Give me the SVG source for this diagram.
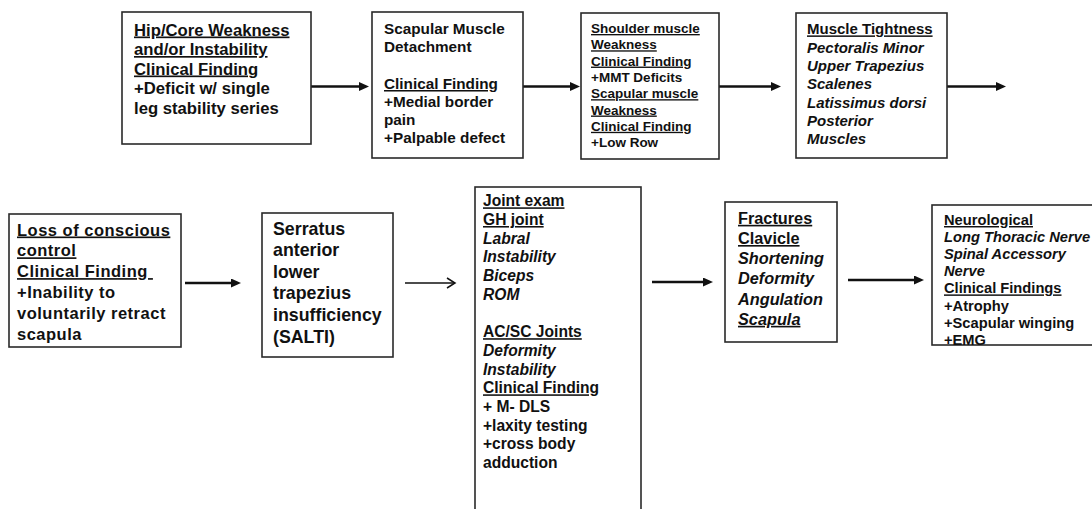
<svg xmlns="http://www.w3.org/2000/svg" width="1092" height="509" viewBox="0 0 1092 509">
<style>
  .box { fill: #ffffff; stroke: #2a2a2a; stroke-width: 1.6; }
  text { font-family: "Liberation Sans", Arial, sans-serif; font-weight: bold; fill: #111111; }
  .u { text-decoration: underline; }
  .i { font-style: italic; }
  .conn { stroke: #111111; stroke-width: 2.6; fill: none; }
  .thin { stroke: #111111; stroke-width: 1.5; fill: none; }
</style>
<defs>
  <marker id="ah" markerUnits="userSpaceOnUse" markerWidth="12" markerHeight="10" refX="2" refY="4.5" orient="auto">
    <path d="M0,0 L10,4.5 L0,9 Z" fill="#111111"/>
  </marker>
  <marker id="ahOpen" markerUnits="userSpaceOnUse" markerWidth="12" markerHeight="14" refX="9" refY="6" orient="auto">
    <path d="M1,1 L9,6 L1,11" fill="none" stroke="#111111" stroke-width="1.5"/>
  </marker>
  <clipPath id="clip9"><rect x="932" y="205" width="160" height="140"/></clipPath>
</defs>
<rect width="1092" height="509" fill="#ffffff"/>

<g id="connectors">
  <line class="conn" x1="311" y1="86.5" x2="361" y2="86.5" marker-end="url(#ah)"/>
  <line class="conn" x1="523" y1="86.5" x2="572" y2="86.5" marker-end="url(#ah)"/>
  <line class="conn" x1="719" y1="86.5" x2="773" y2="86.5" marker-end="url(#ah)"/>
  <line class="conn" x1="947" y1="86.5" x2="998" y2="86.5" marker-end="url(#ah)"/>
  <line class="conn" x1="185" y1="283" x2="233" y2="283" marker-end="url(#ah)"/>
  <line class="thin" x1="405" y1="283" x2="455" y2="283" marker-end="url(#ahOpen)"/>
  <line class="conn" x1="652" y1="282" x2="705" y2="282" marker-end="url(#ah)"/>
  <line class="conn" x1="848" y1="280" x2="916" y2="280" marker-end="url(#ah)"/>
</g>

<g id="node-hip-core">
  <rect class="box" x="122" y="12" width="189" height="132"/>
  <text font-size="16.7">
    <tspan class="u" x="134" y="35.5">Hip/Core Weakness</tspan>
    <tspan class="u" x="134" y="55">and/or Instability</tspan>
    <tspan class="u" x="134" y="74.5">Clinical Finding</tspan>
    <tspan x="134" y="94">+Deficit w/ single</tspan>
    <tspan x="134" y="113.5">leg stability series</tspan>
  </text>
</g>

<g id="node-scapular-detachment">
  <rect class="box" x="372" y="12" width="151" height="146"/>
  <text font-size="15.3">
    <tspan x="384" y="33.8">Scapular Muscle</tspan>
    <tspan x="384" y="52">Detachment</tspan>
    <tspan class="u" x="384" y="89">Clinical Finding</tspan>
    <tspan x="384" y="107">+Medial border</tspan>
    <tspan x="384" y="125">pain</tspan>
    <tspan x="384" y="143.3">+Palpable defect</tspan>
  </text>
</g>

<g id="node-muscle-weakness">
  <rect class="box" x="581" y="13" width="138" height="146"/>
  <text font-size="13.5">
    <tspan class="u" x="591" y="33">Shoulder  muscle</tspan>
    <tspan class="u" x="591" y="49.3">Weakness</tspan>
    <tspan class="u" x="591" y="65.6">Clinical  Finding</tspan>
    <tspan x="591" y="81.9">+MMT Deficits</tspan>
    <tspan class="u" x="591" y="98.2">Scapular  muscle</tspan>
    <tspan class="u" x="591" y="114.5">Weakness</tspan>
    <tspan class="u" x="591" y="130.8">Clinical  Finding</tspan>
    <tspan x="591" y="147.1">+Low Row</tspan>
  </text>
</g>

<g id="node-muscle-tightness">
  <rect class="box" x="796" y="13" width="151" height="145"/>
  <text font-size="15">
    <tspan class="u" x="807" y="34.4">Muscle  Tightness</tspan>
    <tspan class="i" x="807" y="52.7">Pectoralis Minor</tspan>
    <tspan class="i" x="807" y="71">Upper Trapezius</tspan>
    <tspan class="i" x="807" y="89.3">Scalenes</tspan>
    <tspan class="i" x="807" y="107.6">Latissimus dorsi</tspan>
    <tspan class="i" x="807" y="125.9">Posterior</tspan>
    <tspan class="i" x="807" y="144.2">Muscles</tspan>
  </text>
</g>

<g id="node-conscious-control">
  <rect class="box" x="9" y="214" width="172" height="133"/>
  <text font-size="16.5" letter-spacing="0.5">
    <tspan class="u" x="17" y="235.5">Loss of conscious</tspan>
    <tspan class="u" x="17" y="256.3">control</tspan>
    <tspan class="u" x="17" y="277.1">Clinical Finding </tspan>
    <tspan x="17" y="297.9">+Inability to</tspan>
    <tspan x="17" y="318.7">voluntarily retract</tspan>
    <tspan x="17" y="339.5">scapula</tspan>
  </text>
</g>

<g id="node-salti">
  <rect class="box" x="262" y="213" width="131" height="144"/>
  <text font-size="17.8">
    <tspan x="273" y="234.5">Serratus</tspan>
    <tspan x="273" y="256.1">anterior</tspan>
    <tspan x="273" y="277.7">lower</tspan>
    <tspan x="273" y="299.3">trapezius</tspan>
    <tspan x="273" y="320.9">insufficiency</tspan>
    <tspan x="273" y="342.5">(SALTI)</tspan>
  </text>
</g>

<g id="node-joint-exam">
  <rect class="box" x="475" y="187" width="166" height="330"/>
  <text font-size="15.6">
    <tspan class="u" x="483" y="206.3">Joint exam</tspan>
    <tspan class="u" x="483" y="225">GH joint</tspan>
    <tspan class="i" x="483" y="243.7">Labral</tspan>
    <tspan class="i" x="483" y="262.4">Instability</tspan>
    <tspan class="i" x="483" y="281.1">Biceps</tspan>
    <tspan class="i" x="483" y="299.8">ROM</tspan>
    <tspan class="u" x="483" y="337.2">AC/SC Joints</tspan>
    <tspan class="i" x="483" y="355.9">Deformity</tspan>
    <tspan class="i" x="483" y="374.6">Instability</tspan>
    <tspan class="u" x="483" y="393.3">Clinical Finding</tspan>
    <tspan x="483" y="412">+ M- DLS</tspan>
    <tspan x="483" y="430.7">+laxity testing</tspan>
    <tspan x="483" y="449.4">+cross body</tspan>
    <tspan x="483" y="468.1">adduction</tspan>
  </text>
</g>

<g id="node-fractures">
  <rect class="box" x="725" y="202" width="112" height="140"/>
  <text font-size="16.3">
    <tspan class="u" x="738" y="223.8">Fractures</tspan>
    <tspan class="u" x="738" y="244">Clavicle</tspan>
    <tspan class="i" x="738" y="264.2">Shortening</tspan>
    <tspan class="i" x="738" y="284.4">Deformity</tspan>
    <tspan class="i" x="738" y="304.6">Angulation</tspan>
    <tspan class="i u" x="738" y="324.8">Scapula</tspan>
  </text>
</g>

<g id="node-neurological">
  <rect class="box" x="932" y="205" width="200" height="140"/>
  <text font-size="14.7" clip-path="url(#clip9)">
    <tspan class="u" x="944" y="225">Neurological</tspan>
    <tspan class="i" x="944" y="242.1">Long Thoracic Nerve</tspan>
    <tspan class="i" x="944" y="259.2">Spinal Accessory</tspan>
    <tspan class="i" x="944" y="276.3">Nerve</tspan>
    <tspan class="u" x="944" y="293.4">Clinical Findings</tspan>
    <tspan x="944" y="310.5">+Atrophy</tspan>
    <tspan x="944" y="327.6">+Scapular winging</tspan>
    <tspan x="944" y="344.7">+EMG</tspan>
  </text>
</g>
</svg>
